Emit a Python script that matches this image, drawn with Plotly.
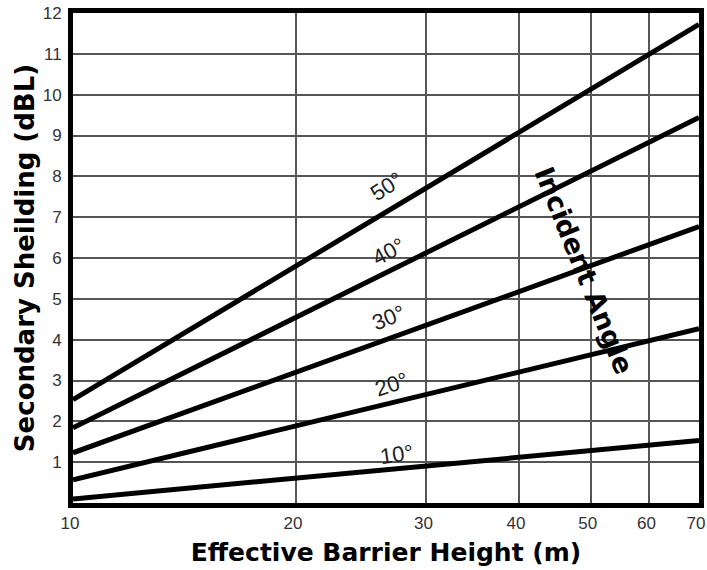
import math
import plotly.graph_objects as go

# Data
barrier_height = [10, 70]
angle_names = ["10°", "20°", "30°", "40°", "50°"]
shielding = {
    "10°": [0.10, 1.53],
    "20°": [0.57, 4.27],
    "30°": [1.23, 6.77],
    "40°": [1.84, 9.44],
    "50°": [2.53, 11.72],
}
x_ticks = [10, 20, 30, 40, 50, 60, 70]
y_ticks = list(range(1, 13))

# label placement (x in data units, y in data units, rotation)
label_pos = {
    "50°": (26.5, 7.75, -33),
    "40°": (26.7, 6.16, -28),
    "30°": (26.7, 4.54, -22),
    "20°": (26.9, 2.90, -18),
    "10°": (27.3, 1.18, -8),
}

fig = go.Figure()
for name in angle_names:
    fig.add_trace(go.Scatter(
        x=barrier_height, y=shielding[name], mode="lines",
        line=dict(color="black", width=5), showlegend=False, name=name,
    ))

for name in angle_names:
    lx, ly, rot = label_pos[name]
    fig.add_annotation(
        x=math.log10(lx), y=ly, xref="x", yref="y", text=name, showarrow=False,
        textangle=rot, font=dict(family="Liberation Sans, Arial", size=22, color="#222"),
    )

fig.add_annotation(
    x=math.log10(49.0), y=5.70, xref="x", yref="y", text="<b>Incident Angle</b>",
    showarrow=False, textangle=68,
    font=dict(family="DejaVu Sans", size=27, color="black"),
)

fig.update_layout(
    width=707, height=570,
    margin=dict(l=73, r=8, t=13, b=67),
    paper_bgcolor="white", plot_bgcolor="white",
)
fig.update_xaxes(
    type="log", range=[1, math.log10(70)], automargin=False,
    tickvals=x_ticks, ticktext=[str(v) for v in x_ticks],
    showgrid=True, gridcolor="#555", gridwidth=1.5,
    showline=True, linecolor="black", linewidth=5, mirror=True,
    ticks="", ticklabelstandoff=1, ticklabeloverflow="allow", ticklabelshift=-3,
    tickfont=dict(family="Liberation Sans, Arial", size=17, color="#333"),
    title=dict(text="<b>Effective Barrier Height (m)</b>", standoff=13,
               font=dict(family="DejaVu Sans", size=25, color="black")),
    zeroline=False,
)
fig.update_yaxes(
    range=[0, 12], automargin=False,
    tickvals=y_ticks, ticktext=[str(v) for v in y_ticks],
    showgrid=True, gridcolor="#555", gridwidth=1.5,
    showline=True, linecolor="black", linewidth=5, mirror=True,
    ticks="", ticklabelstandoff=3, ticklabeloverflow="allow",
    tickfont=dict(family="Liberation Sans, Arial", size=17, color="#333"),
    title=dict(text="<b>Secondary Sheilding (dBL)</b>", standoff=2,
               font=dict(family="DejaVu Sans", size=26, color="black")),
    zeroline=False,
)

# remove the page's default body margin so the figure fills the window exactly
fig.write_html("out.html", config={"displayModeBar": False},
               post_script="document.body.style.margin='0px';")
